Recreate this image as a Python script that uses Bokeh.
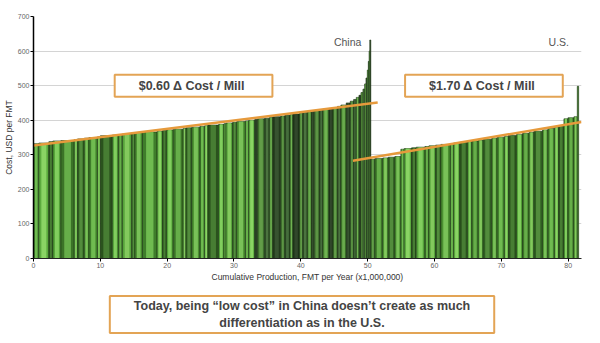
from bokeh.plotting import figure
from bokeh.models import Label, Range1d, FixedTicker, ColumnDataSource
from bokeh.layouts import column
from bokeh.embed import file_html
from bokeh.resources import INLINE

# ---- data ----
china_width = [0.8, 1.5, 0.6, 1.2, 2.0, 0.5, 1.0, 0.7, 1.3, 0.4,
               1.8, 0.9, 0.6, 1.4, 0.5, 1.1, 2.2, 0.8, 0.6, 1.0,
               1.5, 0.4, 0.9, 1.2, 0.7, 0.5, 1.6, 0.8, 0.3, 1.0,
               0.6, 1.3, 0.5, 0.9, 0.4, 1.1, 0.7, 0.5, 1.2, 0.6,
               0.8, 0.4, 1.0, 0.5, 0.7, 0.6, 0.4, 0.8, 0.5, 0.9,
               0.6, 0.7, 0.5, 0.8, 0.6, 0.5, 0.4, 0.4, 0.3, 0.3,
               0.25, 0.2, 0.2, 0.15, 0.12, 0.1, 0.15]
china_cost = [332, 334, 338, 340, 341, 344, 346, 348, 350, 352,
              355, 357, 358, 360, 362, 364, 366, 368, 370, 372,
              374, 376, 378, 380, 382, 384, 386, 388, 390, 392,
              394, 396, 398, 400, 402, 404, 406, 408, 410, 412,
              414, 416, 418, 420, 422, 424, 426, 428, 430, 432,
              434, 436, 440, 444, 450, 455, 460, 466, 472, 480,
              490, 505, 522, 545, 570, 600, 632]
us_width = [0.6, 1.2, 0.8, 1.0, 0.9, 0.5, 1.1, 0.7, 1.3, 0.6,
            1.0, 0.8, 1.4, 0.5, 0.9, 1.2, 0.6, 1.0, 0.7, 1.3,
            0.8, 1.1, 0.6, 1.2, 0.9, 1.0, 0.7, 1.3, 0.8, 1.0,
            0.6, 0.8, 0.6, 0.9, 0.5, 0.2]
us_cost = [287, 289, 291, 293, 295, 316, 318, 320, 322, 324,
           326, 328, 330, 332, 334, 336, 338, 340, 342, 345,
           348, 351, 353, 356, 359, 362, 365, 368, 372, 376,
           380, 384, 404, 407, 410, 498]
china_trend_x = [0, 51.5]
china_trend_y = [327, 451]
us_trend_x = [47.8, 82]
us_trend_y = [283, 395]
x_ticks = [0, 10, 20, 30, 40, 50, 60, 70, 80]
y_ticks = [0, 100, 200, 300, 400, 500, 600, 700]
region_labels = ["China", "U.S."]
box_texts = ["$0.60  \u0394 Cost / Mill", "$1.70  \u0394 Cost / Mill"]
note_text = "Today, being \u201clow cost\u201d in China doesn\u2019t create as much\ndifferentiation as in the U.S."

# ---- build bar geometry from widths ----
def stack(widths, start):
    lefts, rights = [], []
    x = start
    for w in widths:
        lefts.append(x)
        x += w
        rights.append(x)
    return lefts, rights

c_left, c_right = stack(china_width, 0.0)
u_left, u_right = stack(us_width, c_right[-1])

base_pal = ["#3f7d2b", "#52a037", "#2f5e21", "#5cab3e", "#3b7327", "#4b8f31", "#2a521d", "#57a33b"]
light_pal = ["#80d05d", "#92de6c", "#5f9c46", "#9ae272", "#76c256", "#88d266", "#518c3b", "#91d66a"]
dark_base = ["#2b4a24", "#3d6e2c", "#233a1d", "#4a8a33", "#2f4f27", "#3a6a2b", "#1f331a", "#468331"]
dark_light = ["#4f7a44", "#6fae52", "#3f5c37", "#7cc05c", "#557f48", "#68a34e", "#384f32", "#76b857"]

lefts = c_left + u_left
rights = c_right + u_right
tops = china_cost + us_cost
base_cols, light_cols = [], []
for i, l in enumerate(lefts):
    k = (i * 3) % 8
    if 33 <= l < 50.5:
        base_cols.append(dark_base[k]); light_cols.append(dark_light[k])
    else:
        base_cols.append(base_pal[k]); light_cols.append(light_pal[k])

src = ColumnDataSource(dict(
    left=lefts, right=rights, top=tops,
    ileft=[l + 0.25 * (r - l) for l, r in zip(lefts, rights)],
    iright=[r - 0.25 * (r - l) for l, r in zip(lefts, rights)],
    base=base_cols, light=light_cols))

p = figure(width=600, height=290, output_backend="svg", toolbar_location=None,
           x_range=Range1d(0, 82), y_range=Range1d(0, 700),
           min_border_left=33, min_border_right=19, min_border_top=16, min_border_bottom=32)
p.outline_line_color = None
p.background_fill_color = "white"
p.border_fill_color = "white"

p.quad(left="left", right="right", bottom=0, top="top", source=src,
       fill_color="base", line_color="#18300f", line_width=0.6)
p.quad(left="ileft", right="iright", bottom=0, top="top", source=src,
       fill_color="light", line_color=None, fill_alpha=0.75)

p.line(china_trend_x, china_trend_y, line_color="#e69a3c", line_width=2.5)
p.line(us_trend_x, us_trend_y, line_color="#e69a3c", line_width=2.5)

# axes
p.xgrid.visible = False
p.ygrid.grid_line_color = "#d4d4d4"
p.ygrid.ticker = FixedTicker(ticks=y_ticks)
p.xaxis.ticker = FixedTicker(ticks=x_ticks)
p.yaxis.ticker = FixedTicker(ticks=y_ticks)
for ax in (p.xaxis, p.yaxis):
    ax.major_label_text_font = "Liberation Sans"
    ax.major_label_text_font_size = "7px"
    ax.major_label_text_color = "#666666"
    ax.axis_label_text_font = "Liberation Sans"
    ax.axis_label_text_font_size = "8.5px"
    ax.axis_label_text_font_style = "normal"
    ax.axis_label_text_color = "#333333"
    ax.minor_tick_line_color = None
    ax.major_tick_in = 0
    ax.major_tick_out = 3
    ax.major_label_standoff = 1
    ax.axis_label_standoff = 1
p.xaxis.axis_label = "Cumulative Production, FMT per Year (x1,000,000)"
p.yaxis.axis_label = "Cost, USD per FMT"
p.yaxis.axis_line_color = "black"
p.yaxis.axis_line_width = 1.5
p.xaxis.axis_line_color = "#222222"

# region labels
p.add_layout(Label(x=47.0, y=625, text=region_labels[0], text_align="center",
                   text_baseline="middle", text_font="Liberation Sans",
                   text_font_size="10.5px", text_color="#555555"))
p.add_layout(Label(x=78.6, y=625, text=region_labels[1], text_align="center",
                   text_baseline="middle", text_font="Liberation Sans",
                   text_font_size="10.5px", text_color="#555555"))

# boxed annotations
def boxed(fig, x, y, text, pad, size):
    shadow = Label(x=x, y=y, x_offset=2, y_offset=-2, text=text, text_align="center",
                   text_baseline="middle", text_font="Liberation Sans",
                   text_font_size=size, text_font_style="bold", text_alpha=0,
                   background_fill_color="#cfcfcf", background_fill_alpha=0.8,
                   padding=pad)
    lab = Label(x=x, y=y, text=text, text_align="center",
                text_baseline="middle", text_font="Liberation Sans",
                text_font_size=size, text_font_style="bold", text_color="#444444",
                background_fill_color="white", border_line_color="#e3a455",
                border_line_width=2, padding=pad)
    fig.add_layout(shadow)
    fig.add_layout(lab)

boxed(p, 23.95, 500, box_texts[0], (24, 4), "12.5px")
boxed(p, 67.4, 500, box_texts[1], (24, 4), "12.5px")

# note panel below the chart
q = figure(width=600, height=53, output_backend="svg", toolbar_location=None,
           x_range=Range1d(0, 600), y_range=Range1d(0, 53),
           min_border_left=0, min_border_right=0, min_border_top=0, min_border_bottom=0)
q.axis.visible = False
q.grid.visible = False
q.outline_line_color = None
q.border_fill_color = "white"
boxed(q, 294, 29, note_text, (24, 3), "12.5px")

open("out.html", "w").write(file_html(column(p, q, spacing=0), INLINE))
